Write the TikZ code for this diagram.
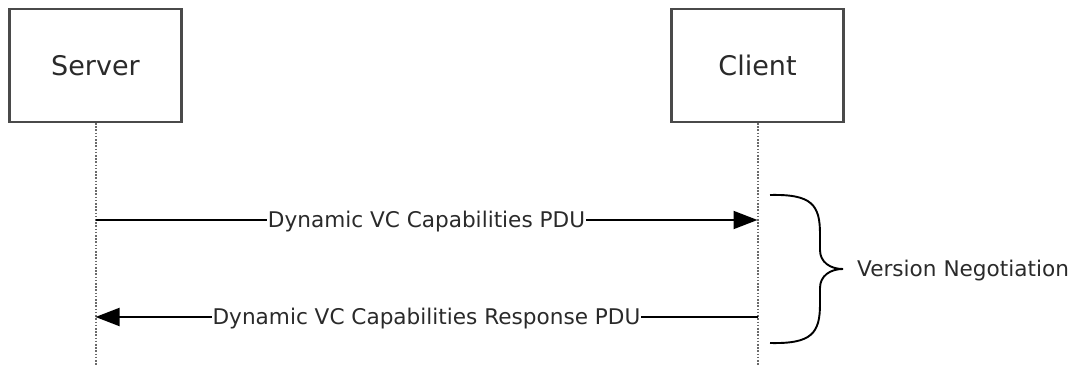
\documentclass[tikz,border=0pt]{standalone}
\usepackage{fontspec}
\setmainfont{DejaVu Sans}
\usetikzlibrary{arrows.meta}
\definecolor{txt}{HTML}{2A2A2A}
\definecolor{boxline}{HTML}{4A4A4A}
\definecolor{lifegray}{HTML}{6A6A6A}
\begin{document}
\begin{tikzpicture}[x=1pt,y=-1pt,
  actor/.style={draw=boxline,line width=2.2pt,fill=white,minimum width=172pt,minimum height=113pt,inner sep=0pt,
    font=\fontsize{27}{32}\selectfont,text=txt},
  lifeline/.style={draw=lifegray,line width=2pt,dash pattern=on 1.6pt off 1.6pt},
  msg/.style={line width=1.9pt,-{Triangle[length=24pt,width=18pt]}},
  msglabel/.style={fill=white,inner xsep=1pt,inner ysep=2pt,text height=15.7pt,text depth=0pt,
    font=\fontsize{21.6}{26}\selectfont,text=txt},
  note/.style={inner sep=0pt,text height=15.7pt,text depth=0pt,font=\fontsize{21.6}{26}\selectfont,text=txt}]
\useasboundingbox (0,0) rectangle (1074,366);
\node[actor] (server) at (95.5,65.5) {Server};
\node[actor] (client) at (757.5,65.5) {Client};
\coordinate (sbot) at (95.5,366);
\coordinate (cbot) at (757.5,366);
\draw[lifeline] (server.south) -- (sbot);
\draw[lifeline] (client.south) -- (cbot);
\coordinate (s1) at (95.5,220);
\coordinate (c1) at (757.5,220);
\coordinate (s2) at (95.5,317);
\coordinate (c2) at (757.5,317);
\draw[msg] (s1) -- (c1) node[midway,msglabel] (m1) {Dynamic VC Capabilities PDU};
\draw[msg] (c2) -- (s2) node[midway,msglabel] (m2) {Dynamic VC Capabilities Response PDU};
\coordinate (btop) at (770,195);
\coordinate (btip) at (843,269);
\coordinate (bbot) at (770,343);
\draw[line width=1.9pt] (btop) .. controls (812,194) and (820,205) .. (820,234) -- (820,250)
  .. controls (820,262) and (830,269) .. (btip)
  .. controls (830,269) and (820,276) .. (820,288) -- (820,304)
  .. controls (820,333) and (812,344) .. (bbot);
\node[note,anchor=west] (vn) at (857,269) {Version Negotiation};
\end{tikzpicture}
\end{document}
